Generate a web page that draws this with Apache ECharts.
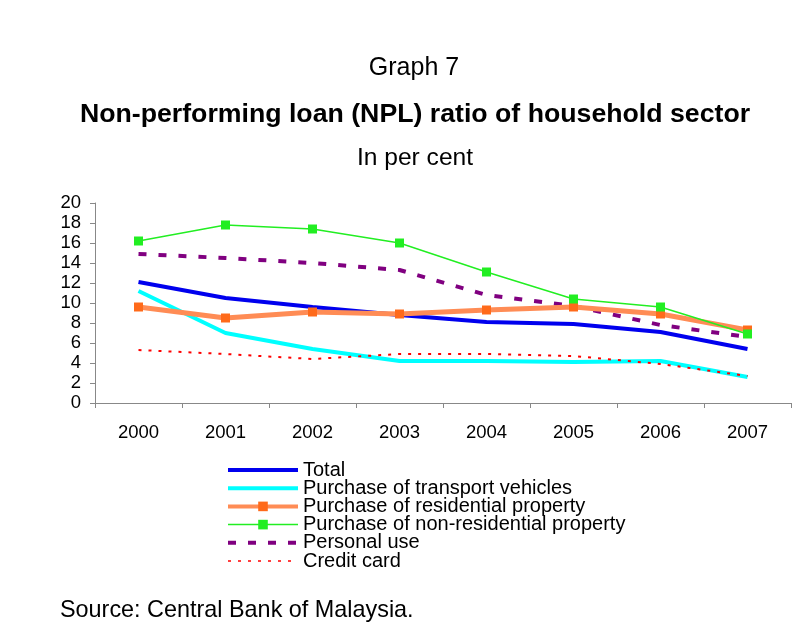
<!DOCTYPE html>
<html>
<head>
<meta charset="utf-8">
<script src="https://cdn.jsdelivr.net/npm/echarts@6/dist/echarts.min.js"></script>
<style>
html,body{margin:0;padding:0;background:#fff;}
#c{width:811px;height:641px;}
</style>
</head>
<body>
<div id="c"></div>
<script>
const years = ['2000','2001','2002','2003','2004','2005','2006','2007'];
const total = [12.1, 10.5, 9.6, 8.8, 8.1, 7.9, 7.1, 5.4];
const transport = [11.2, 7.0, 5.4, 4.2, 4.2, 4.1, 4.2, 2.6];
const residential = [9.6, 8.5, 9.1, 8.9, 9.3, 9.6, 8.9, 7.3];
const nonResidential = [16.2, 17.8, 17.4, 16.0, 13.1, 10.4, 9.6, 6.9];
const personal = [14.9, 14.5, 14.0, 13.3, 10.8, 9.7, 7.8, 6.6];
const creditCard = [5.3, 4.9, 4.4, 4.9, 4.9, 4.7, 3.9, 2.7];
const yTicks = {min: 0, max: 20, interval: 2};

const FONT = 'Liberation Sans, Arial, sans-serif';
const hidden = {opacity: 0};
const chart = echarts.init(document.getElementById('c'));
chart.setOption({
  backgroundColor: '#fff',
  animation: false,
  textStyle: {fontFamily: FONT, color: '#000'},
  title: [
    {text: 'Graph 7', left: 409, textAlign: 'center', top: 51, textStyle: {fontSize: 25, fontWeight: 'normal', color: '#000', fontFamily: FONT}},
    {text: 'Non-performing loan (NPL) ratio of household sector', left: 410, textAlign: 'center', top: 96, textStyle: {fontSize: 26.7, fontWeight: 'bold', color: '#000', fontFamily: FONT}},
    {text: 'In per cent', left: 410, textAlign: 'center', top: 141, textStyle: {fontSize: 24.6, fontWeight: 'normal', color: '#000', fontFamily: FONT}},
    {text: 'Source: Central Bank of Malaysia.', left: 55, top: 594, textStyle: {fontSize: 23.4, fontWeight: 'normal', color: '#000', fontFamily: FONT}}
  ],
  grid: {left: 95, right: 20, top: 203, bottom: 238, containLabel: false},
  xAxis: {
    type: 'category', data: years, boundaryGap: true,
    axisLine: {lineStyle: {color: '#888', width: 1}},
    axisTick: {show: true, length: 5, inside: false, lineStyle: {color: '#888'}},
    axisLabel: {fontSize: 18.5, color: '#000', margin: 20, fontFamily: FONT}
  },
  yAxis: {
    type: 'value', min: yTicks.min, max: yTicks.max, interval: yTicks.interval,
    splitLine: {show: false},
    axisLine: {show: true, lineStyle: {color: '#888', width: 1}},
    axisTick: {show: true, length: 5, lineStyle: {color: '#888'}},
    axisLabel: {fontSize: 18.5, color: '#000', margin: 14, fontFamily: FONT}
  },
  legend: {
    orient: 'vertical', left: 221, top: 455,
    itemWidth: 70, itemHeight: 12, itemGap: -1.8,
    textStyle: {fontSize: 20, lineHeight: 20, color: '#000', fontFamily: FONT, padding: [0,0,0,0]},
    data: [
      {name: 'Total', itemStyle: hidden, lineStyle: {width: 4}},
      {name: 'Purchase of transport vehicles', itemStyle: hidden, lineStyle: {width: 4}},
      {name: 'Purchase of residential property', lineStyle: {width: 4}},
      {name: 'Purchase of non-residential property', lineStyle: {width: 1.5}},
      {name: 'Personal use', itemStyle: hidden, lineStyle: {width: 4}},
      {name: 'Credit card', itemStyle: hidden, lineStyle: {width: 1.5}}
    ]
  },
  series: [
    {name: 'Total', type: 'line', data: total, symbol: 'none', lineStyle: {color: '#0000ee', width: 4}, itemStyle: {color: '#0000ee'}, z: 3},
    {name: 'Purchase of transport vehicles', type: 'line', data: transport, symbol: 'none', lineStyle: {color: '#00ffff', width: 4}, itemStyle: {color: '#00ffff'}, z: 2},
    {name: 'Purchase of residential property', type: 'line', data: residential, symbol: 'rect', symbolSize: 9, lineStyle: {color: '#ff8c55', width: 5}, itemStyle: {color: '#ff6a1a'}, z: 4},
    {name: 'Purchase of non-residential property', type: 'line', data: nonResidential, symbol: 'rect', symbolSize: 9, lineStyle: {color: '#22ee22', width: 1.5}, itemStyle: {color: '#22ee22'}, z: 5},
    {name: 'Personal use', type: 'line', data: personal, symbol: 'none', lineStyle: {color: '#800080', width: 4, type: [8, 12]}, itemStyle: {color: '#800080'}, z: 3},
    {name: 'Credit card', type: 'line', data: creditCard, symbol: 'none', lineStyle: {color: '#ff0000', width: 2, type: [3, 7]}, itemStyle: {color: '#ff0000'}, z: 3}
  ]
});
</script>
</body>
</html>
